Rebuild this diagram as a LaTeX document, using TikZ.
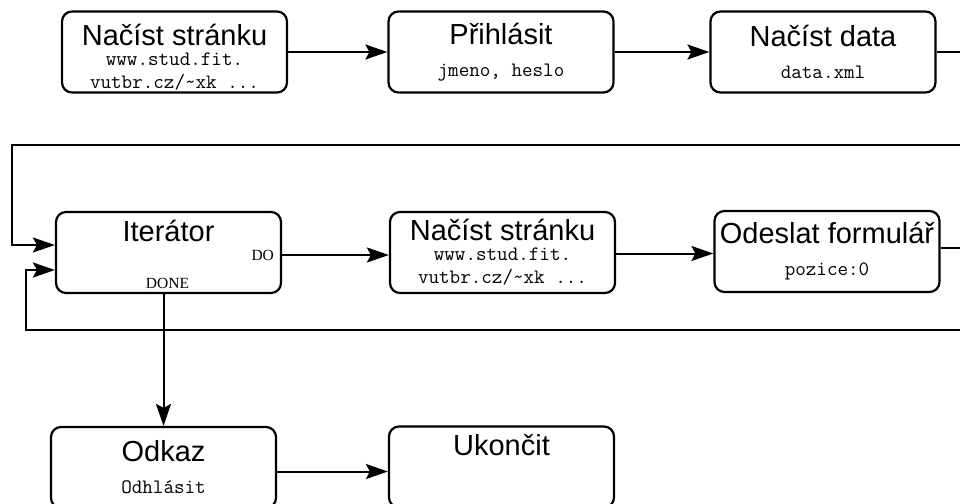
\documentclass[tikz,border=0pt]{standalone}
\usepackage{fontspec}
\setmainfont{Liberation Serif}
\setsansfont{Liberation Sans}
\setmonofont{Latin Modern Mono}
\usetikzlibrary{arrows.meta,calc}
\newcommand{\THead}{\fontsize{29}{34}\selectfont\sffamily}
\newcommand{\TCode}{\fontsize{20.5}{23}\selectfont\ttfamily}
\newcommand{\TPort}{\fontsize{15.5}{18}\selectfont\rmfamily}

\begin{document}
\begin{tikzpicture}[x=1pt, y=1pt,
  flow/.style={-{Stealth[length=22pt,width=15pt,inset=4pt]}, draw=black,
               line width=2pt},
  task/.style={draw=black, line width=2.2pt, rounded corners=10pt,
               minimum width=225pt, minimum height=81pt, align=center,
               inner sep=0pt, font=\TCode},
  port/.style={font=\TPort, inner sep=0pt}
]
\useasboundingbox (0,0) rectangle (960,-503);

% First row: open the page, log in, load the data.
\node[task] (page1) at (174.5,-52)
  {{\THead\rule{0pt}{31pt}Načíst stránku}\\[-3pt]www.stud.fit.\\vutbr.cz/\textasciitilde xk ...};
\node[task] (login) at (501,-52) {{\THead Přihlásit}\\[9pt]jmeno, heslo};
\node[task] (data) at (823,-52) {{\THead Načíst data}\\[9pt]data.xml};

\draw[flow] (page1) -- (login);
\draw[flow] (login) -- (data);

% Second row: the loop over the items.
\node[task, text depth=43pt] (iter) at (168.5,-252.5) {\THead Iterátor};
\node[port, anchor=east] (do) at ($(iter.east)+(-8,-2.5)$) {DO};
\node[port] (done) at ($(iter.south)+(-1,11)$) {DONE};
\node[task] (page2) at (502.5,-252.5)
  {{\THead Načíst stránku}\\[-3pt]www.stud.fit.\\vutbr.cz/\textasciitilde xk ...};
\node[task] (form) at (827,-251.5) {{\THead Odeslat formulář}\\[9pt]pozice:0};

\draw[flow] (do.east -| iter.east) -- (do.east -| page2.west);
\draw[flow] ([yshift=-1pt]page2.east) -- ([yshift=-1pt]page2.east -| form.west);

% Feedback lines, leaving the picture on the right.
\coordinate (loopin) at (12,-145);
\coordinate (loopback) at (26,-330);
\draw[flow] (data.east) -- ++(30,0) |- (loopin) |- ($(iter.west)+(0,7.5)$);
\draw[flow] ($(form.east)+(0,3.5)$) -- ++(30,0) |- (loopback)
  |- ($(iter.west)+(0,-17.5)$);

% Third row: log out and finish.
\node[task] (link) at (163.5,-467.5) {{\THead Odkaz}\\[9pt]Odhlásit};
\node[task, text depth=44pt] (finish) at (501.5,-467) {\THead Ukončit};

\draw[flow] (iter.south -| link.north) -- (link.north);
\draw[flow] ([yshift=-4pt]link.east) -- ([yshift=-4pt]link.east -| finish.west);
\end{tikzpicture}
\end{document}
